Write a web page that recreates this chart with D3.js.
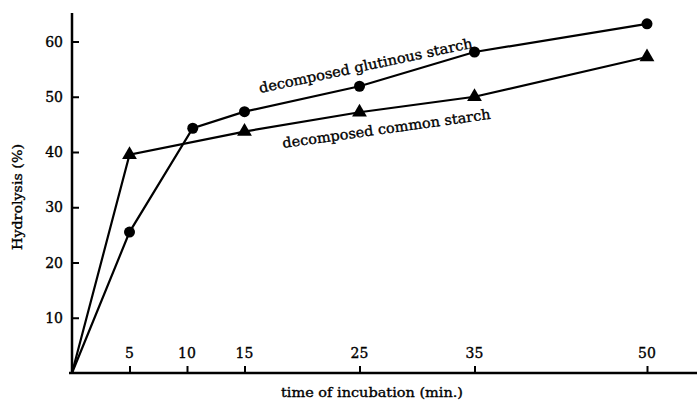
<!DOCTYPE html>
<html><head><meta charset="utf-8">
<script src="https://cdn.jsdelivr.net/npm/d3@7"></script>
<style>body{margin:0;background:#fff}svg{display:block}text{stroke:#000;stroke-width:0.35px}</style>
</head><body>
<svg id="c" width="699" height="403"></svg>
<script>
const xTicks = [5, 10, 15, 25, 35, 50];
const yTicks = [10, 20, 30, 40, 50, 60];
const glutinousX = [0, 5, 10.5, 15, 25, 35, 50];
const glutinousY = [0, 25.5, 44.3, 47.3, 51.9, 58.1, 63.2];
const commonX = [0, 5, 15, 25, 35, 50];
const commonY = [0, 39.5, 43.7, 47.2, 50.0, 57.2];

const svg = d3.select("#c");
const font = "'DejaVu Serif', 'Liberation Serif', serif";
const x = d3.scaleLinear().domain([0, 50]).range([72, 647]);
const y = d3.scaleLinear().domain([0, 60]).range([373, 41.5]);

// axes lines
svg.append("line").attr("x1", 69).attr("x2", 697).attr("y1", y(0)).attr("y2", y(0))
  .attr("stroke", "#000").attr("stroke-width", 2.5);
svg.append("line").attr("x1", 72).attr("x2", 72).attr("y1", 13).attr("y2", y(0))
  .attr("stroke", "#000").attr("stroke-width", 2.5);

// y ticks
const yAxis = d3.axisRight(y).tickValues(yTicks).tickSize(7).tickFormat("");
const gy = svg.append("g").attr("transform", "translate(72,0)").call(yAxis);
gy.select(".domain").remove();
gy.selectAll(".tick line").attr("stroke-width", 2);
svg.selectAll(".ylab").data(yTicks).enter().append("text")
  .attr("x", 63).attr("y", d => y(d) + 5).attr("text-anchor", "end")
  .attr("font-family", font).attr("font-size", 14).text(d => d);

// x ticks
const xAxis = d3.axisTop(x).tickValues(xTicks).tickSize(7).tickFormat("");
const gx = svg.append("g").attr("transform", `translate(0,${y(0)})`).call(xAxis);
gx.select(".domain").remove();
gx.selectAll(".tick line").attr("stroke-width", 2);
svg.selectAll(".xlab").data(xTicks).enter().append("text")
  .attr("x", d => x(d)).attr("y", 358).attr("text-anchor", "middle")
  .attr("font-family", font).attr("font-size", 14).text(d => d);

// lines
const line = d3.line().x(d => x(d[0])).y(d => y(d[1]));
const g1 = d3.zip(glutinousX, glutinousY);
const g2 = d3.zip(commonX, commonY);
svg.append("path").attr("d", line(g1)).attr("fill", "none").attr("stroke", "#000").attr("stroke-width", 2.2);
svg.append("path").attr("d", line(g2)).attr("fill", "none").attr("stroke", "#000").attr("stroke-width", 2.2);

svg.selectAll(".circ").data(g1.slice(1)).enter().append("circle")
  .attr("cx", d => x(d[0])).attr("cy", d => y(d[1])).attr("r", 5.5).attr("fill", "#000");
const tri = d3.symbol().type(d3.symbolTriangle).size(95);
svg.selectAll(".tri").data(g2.slice(1)).enter().append("path")
  .attr("d", tri).attr("transform", d => `translate(${x(d[0])},${y(d[1])})`).attr("fill", "#000");

// annotations
svg.append("text").attr("transform", "translate(260,93) rotate(-12)")
  .attr("font-family", font).attr("font-size", 14)
  .attr("textLength", 218).attr("lengthAdjust", "spacingAndGlyphs")
  .text("decomposed glutinous starch");
svg.append("text").attr("transform", "translate(283,148) rotate(-8)")
  .attr("font-family", font).attr("font-size", 14)
  .attr("textLength", 210).attr("lengthAdjust", "spacingAndGlyphs")
  .text("decomposed common starch");

// axis titles
svg.append("text").attr("transform", "translate(22,197) rotate(-90)").attr("text-anchor", "middle")
  .attr("font-family", font).attr("font-size", 13)
  .attr("textLength", 106).attr("lengthAdjust", "spacingAndGlyphs")
  .text("Hydrolysis  (%)");
svg.append("text").attr("x", 372).attr("y", 397).attr("text-anchor", "middle")
  .attr("font-family", font).attr("font-size", 13)
  .attr("textLength", 182).attr("lengthAdjust", "spacingAndGlyphs")
  .text("time of incubation  (min.)");
</script>
</body></html>
